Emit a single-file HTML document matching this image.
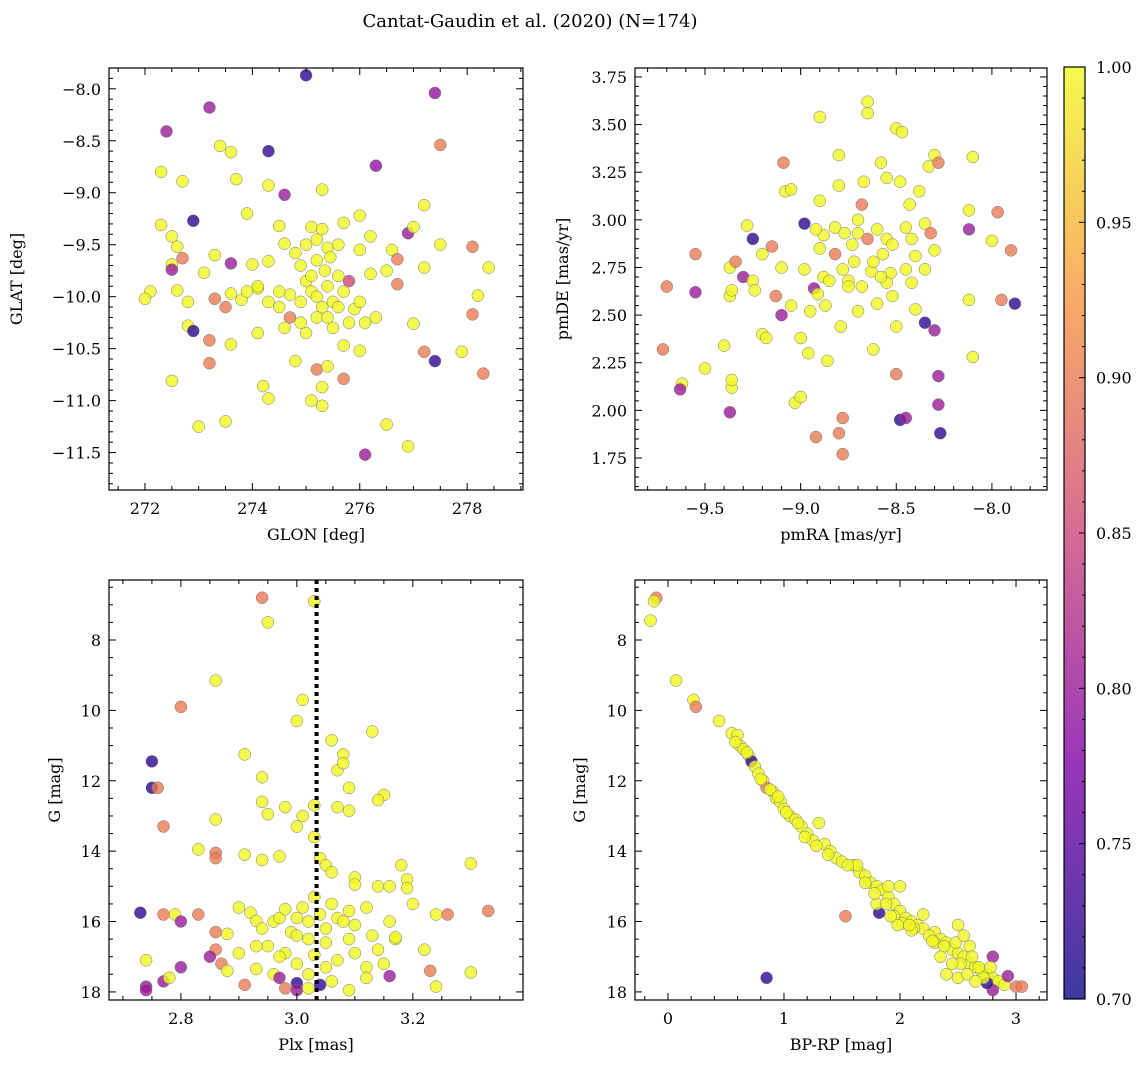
<!DOCTYPE html>
<html><head><meta charset="utf-8"><style>
body{margin:0;background:#fff;}
svg{display:block;font-family:"DejaVu Serif","Liberation Serif",serif;}
</style></head><body>
<svg id="chart" width="1148" height="1067" viewBox="0 0 1148 1067">
<text x="530" y="27" font-size="18" text-anchor="middle">Cantat-Gaudin et al. (2020) (N=174)</text>
</svg>
<script>
// ---- data (estimated from reference) ----
const glonGlat = [[275.0,-7.87,0.72],[277.4,-8.04,0.79],[273.2,-8.18,0.8],[277.5,-8.54,0.9],[272.4,-8.41,0.8],[273.4,-8.55,1],[273.6,-8.61,1],[274.3,-8.6,0.72],[276.3,-8.74,0.79],[272.3,-8.8,1],[272.7,-8.89,1],[273.7,-8.87,1],[274.3,-8.93,1],[274.6,-9.02,0.8],[275.3,-8.97,1],[277.2,-9.12,1],[272.9,-9.27,0.72],[272.3,-9.31,1],[273.9,-9.2,1],[274.5,-9.32,1],[275.1,-9.33,1],[275.7,-9.29,1],[276.0,-9.22,1],[276.9,-9.39,0.8],[277.0,-9.33,1],[272.5,-9.42,1],[272.6,-9.52,1],[272.5,-9.69,1],[272.5,-9.74,0.8],[272.7,-9.63,0.9],[273.3,-9.6,1],[273.6,-9.68,0.8],[274.0,-9.69,1],[274.3,-9.66,1],[274.6,-9.49,1],[274.8,-9.58,1],[275.0,-9.5,1],[275.2,-9.45,1],[275.4,-9.53,1],[275.6,-9.5,1],[276.0,-9.55,1],[276.2,-9.42,1],[276.6,-9.55,1],[276.7,-9.64,0.9],[277.5,-9.5,1],[278.1,-9.52,0.9],[278.4,-9.72,1],[277.2,-9.72,1],[272.1,-9.95,1],[272.0,-10.02,1],[272.6,-9.94,1],[272.8,-10.05,1],[273.1,-9.77,1],[273.3,-10.02,0.9],[273.5,-10.1,0.9],[273.6,-9.97,1],[273.8,-10.03,1],[274.1,-9.92,1],[274.3,-10.05,1],[274.5,-10.1,1],[274.7,-9.98,1],[274.9,-10.05,1],[275.0,-9.85,1],[275.1,-9.95,1],[275.2,-10.0,1],[275.3,-10.1,1],[275.4,-9.9,1],[275.5,-10.05,1],[275.6,-10.1,1],[275.7,-9.95,1],[275.8,-9.85,0.85],[275.9,-10.12,1],[276.0,-10.05,1],[276.2,-9.78,1],[276.3,-10.2,1],[276.7,-9.88,0.9],[277.0,-10.26,1],[278.2,-9.99,1],[278.1,-10.17,0.9],[272.8,-10.28,1],[272.9,-10.33,0.72],[273.2,-10.42,0.9],[273.6,-10.46,1],[274.1,-10.35,1],[274.7,-10.2,0.9],[274.8,-10.62,1],[275.0,-10.35,1],[275.2,-10.7,0.9],[275.4,-10.67,1],[275.7,-10.47,1],[275.7,-10.79,0.9],[275.3,-10.87,1],[274.2,-10.86,1],[274.3,-10.98,1],[273.2,-10.64,0.9],[272.5,-10.81,1],[273.0,-11.25,1],[273.5,-11.2,1],[275.1,-11.0,1],[275.3,-11.05,1],[276.5,-11.23,1],[276.9,-11.44,1],[276.1,-11.52,0.8],[277.4,-10.62,0.72],[277.2,-10.53,0.9],[278.3,-10.74,0.9],[277.9,-10.53,1],[276.0,-10.52,1],[275.8,-10.25,1],[275.5,-10.3,1],[274.9,-10.25,1],[275.2,-9.65,1],[275.35,-9.75,1],[275.1,-9.8,1],[274.9,-9.7,1],[275.45,-9.62,1],[275.3,-9.35,1],[274.5,-9.95,1],[275.6,-9.8,1],[274.6,-10.3,1],[275.2,-10.2,1],[276.1,-10.25,1],[275.4,-10.2,1],[274.1,-9.9,1],[273.9,-9.95,1],[276.5,-9.75,1]];
const pmData = [[-9.55,2.82,0.9],[-9.7,2.65,0.9],[-9.72,2.32,0.9],[-9.55,2.62,0.8],[-9.62,2.14,1],[-9.63,2.11,0.8],[-9.5,2.22,1],[-9.4,2.34,1],[-9.37,1.99,0.8],[-9.36,2.12,1],[-9.36,2.16,1],[-9.37,2.6,1],[-9.36,2.63,1],[-9.37,2.75,1],[-9.34,2.78,0.9],[-9.3,2.7,0.8],[-9.28,2.97,1],[-9.25,2.9,0.72],[-9.25,2.68,1],[-9.24,2.63,1],[-9.2,2.4,1],[-9.18,2.38,1],[-9.15,2.86,0.9],[-9.13,2.6,0.9],[-9.1,2.5,0.8],[-9.1,2.75,1],[-9.09,3.3,0.9],[-9.08,3.15,1],[-9.05,3.16,1],[-9.05,2.55,1],[-9.03,2.04,1],[-9.0,2.07,1],[-9.0,2.38,1],[-8.98,2.98,0.72],[-8.98,2.74,1],[-8.96,2.3,1],[-8.95,2.52,1],[-8.93,2.64,0.8],[-8.91,2.61,1],[-8.9,3.54,1],[-8.9,3.1,1],[-8.9,2.85,1],[-8.88,2.92,1],[-8.88,2.7,1],[-8.87,2.55,1],[-8.86,2.26,1],[-8.82,2.82,0.9],[-8.82,2.96,1],[-8.8,3.34,1],[-8.8,3.18,1],[-8.79,2.44,1],[-8.78,2.74,1],[-8.77,2.93,1],[-8.75,2.68,1],[-8.73,2.87,1],[-8.7,3.0,1],[-8.7,2.93,1],[-8.7,2.52,1],[-8.68,3.08,0.9],[-8.67,3.2,1],[-8.65,3.62,1],[-8.65,3.56,1],[-8.65,2.9,0.9],[-8.63,2.73,1],[-8.62,2.32,1],[-8.6,2.56,1],[-8.58,3.3,1],[-8.55,3.22,1],[-8.55,2.9,1],[-8.53,2.72,1],[-8.52,2.87,1],[-8.5,3.48,1],[-8.5,2.44,1],[-8.5,2.19,0.9],[-8.48,3.2,1],[-8.47,3.46,1],[-8.45,2.96,1],[-8.45,2.74,1],[-8.43,3.08,1],[-8.42,2.67,1],[-8.4,2.53,1],[-8.38,3.15,1],[-8.35,2.98,1],[-8.35,2.46,0.72],[-8.32,2.93,0.9],[-8.33,3.28,1],[-8.3,3.34,1],[-8.3,2.84,1],[-8.28,3.3,0.9],[-8.3,2.42,0.8],[-8.28,2.18,0.8],[-8.28,2.03,0.8],[-8.27,1.88,0.72],[-8.48,1.95,0.72],[-8.45,1.96,0.8],[-8.78,1.96,0.9],[-8.8,1.88,0.9],[-8.78,1.77,0.9],[-8.92,1.86,0.9],[-8.62,2.78,1],[-8.57,2.82,1],[-8.55,2.67,1],[-8.4,2.81,1],[-8.35,2.74,1],[-8.12,2.95,0.8],[-8.12,3.05,1],[-8.12,2.58,1],[-8.1,2.28,1],[-8.1,3.33,1],[-8.0,2.89,1],[-7.97,3.04,0.9],[-7.95,2.58,0.9],[-7.9,2.84,0.9],[-7.88,2.56,0.72],[-8.75,2.65,1],[-8.85,2.68,1],[-8.6,2.95,1],[-8.72,2.78,1],[-8.52,2.6,1],[-8.92,2.95,1],[-8.68,2.65,1],[-8.58,2.7,1],[-8.42,2.9,1],[-9.2,2.82,1]];
const plxG = [[2.94,6.8,0.9],[3.03,6.9,1],[2.95,7.5,1],[2.86,9.15,1],[2.8,9.9,0.9],[3.01,9.7,1],[3.00,10.3,1],[3.06,10.85,1],[3.08,11.25,1],[3.13,10.6,1],[2.91,11.25,1],[2.75,11.45,0.72],[2.75,12.2,0.72],[2.76,12.2,0.9],[2.77,13.3,0.9],[2.94,11.9,1],[2.94,12.6,1],[2.98,12.75,1],[2.95,12.95,1],[3.03,12.7,1],[3.07,11.7,1],[3.08,11.5,1],[3.09,12.2,1],[3.07,12.75,1],[3.09,12.85,1],[3.15,12.4,1],[3.14,12.55,1],[2.86,13.1,1],[3.0,13.3,1],[3.01,13.0,1],[3.03,13.6,1],[2.83,13.95,1],[2.86,14.05,0.9],[2.86,14.2,0.9],[2.94,14.25,1],[2.91,14.1,1],[2.97,14.15,1],[3.04,14.2,1],[3.05,14.4,1],[3.06,14.6,1],[3.1,14.75,1],[3.1,14.95,1],[3.14,15.0,1],[3.16,15.0,1],[3.18,14.4,1],[3.19,14.8,1],[3.19,15.05,1],[3.3,14.35,1],[2.73,15.75,0.72],[2.77,15.8,0.9],[2.79,15.8,1],[2.8,16.0,0.8],[2.83,15.8,0.9],[2.86,16.3,0.9],[2.86,16.8,0.9],[2.87,17.2,0.9],[2.88,16.35,1],[2.9,15.6,1],[2.92,15.75,1],[2.93,15.98,1],[2.94,16.2,1],[2.95,16.7,1],[2.96,16.0,1],[2.97,15.9,1],[2.98,15.65,1],[2.99,16.3,1],[3.0,15.9,1],[3.0,16.4,1],[3.01,15.6,1],[3.02,16.0,1],[3.02,16.5,1],[3.03,15.3,1],[3.04,15.8,1],[3.05,16.2,1],[3.05,16.6,1],[3.06,15.5,1],[3.07,15.9,1],[3.08,16.0,1],[3.09,15.7,1],[3.09,16.5,1],[3.1,16.1,1],[3.12,15.6,1],[3.13,16.4,1],[3.14,16.8,1],[3.15,17.2,1],[3.16,16.0,1],[3.17,16.5,1],[3.2,15.5,1],[3.22,16.8,1],[3.23,17.4,0.9],[3.24,17.85,1],[3.24,15.8,1],[3.26,15.8,0.9],[3.3,17.45,1],[3.33,15.7,0.9],[2.74,17.1,1],[2.74,17.85,0.8],[2.74,17.95,0.8],[2.77,17.7,0.8],[2.78,17.6,1],[2.8,17.3,0.8],[2.85,17.0,0.8],[2.88,17.4,1],[2.91,17.8,0.9],[2.93,17.35,1],[2.96,17.5,1],[2.97,17.6,0.8],[2.98,17.9,0.9],[3.0,17.75,0.72],[3.0,17.95,0.8],[3.02,17.9,1],[3.04,17.8,0.72],[3.06,17.7,1],[3.09,17.95,1],[3.12,17.3,1],[3.12,17.6,1],[3.16,17.55,0.8],[2.93,16.7,1],[2.98,16.9,1],[3.03,16.95,1],[3.07,17.1,1],[3.1,16.9,1],[3.17,16.45,1],[3.0,17.2,1],[2.97,17.0,1],[3.05,17.3,1],[3.02,17.5,1],[2.9,16.9,1]];
const cmdData = [[-0.1,6.8,0.9],[-0.12,6.9,1],[-0.15,7.45,1],[0.07,9.15,1],[0.22,9.7,1],[0.24,9.9,0.9],[0.44,10.3,1],[0.55,10.65,1],[0.6,10.7,1],[0.62,11.0,1],[0.65,11.1,1],[0.7,11.3,1],[0.72,11.45,0.72],[0.75,11.6,1],[0.78,11.8,1],[0.82,12.0,1],[0.85,12.2,0.9],[0.9,12.3,1],[0.93,12.5,1],[0.97,12.6,1],[1.0,12.8,1],[1.05,13.0,1],[1.1,13.1,1],[1.15,13.3,1],[1.2,13.5,1],[1.3,13.2,1],[1.25,13.7,1],[1.35,13.8,1],[1.4,14.0,1],[1.45,14.2,1],[1.5,14.3,1],[1.6,14.4,1],[1.65,14.6,1],[1.63,14.4,1],[1.7,14.7,1],[1.75,14.9,1],[1.8,15.0,1],[1.85,15.1,1],[1.9,15.3,1],[1.95,15.5,1],[2.0,15.7,1],[2.05,15.9,1],[2.1,16.0,1],[2.15,16.1,1],[2.2,16.2,1],[2.3,16.3,1],[2.35,16.5,1],[2.4,16.6,1],[2.45,16.8,1],[2.5,16.9,1],[2.55,17.0,1],[2.6,17.2,1],[2.65,17.3,1],[2.7,17.4,1],[2.75,17.5,1],[2.8,17.6,1],[2.85,17.7,1],[2.9,17.8,1],[3.0,17.85,0.9],[3.05,17.85,0.9],[2.8,17.0,0.8],[2.93,17.55,0.8],[2.8,17.95,0.8],[2.75,17.75,0.72],[1.53,15.85,0.9],[0.85,17.6,0.72],[1.82,15.75,0.72],[1.8,15.5,1],[1.9,15.0,1],[2.0,15.0,1],[0.58,10.9,1],[0.68,11.2,1],[0.8,11.95,1],[0.88,12.25,1],[0.95,12.45,1],[1.02,12.9,1],[1.12,13.2,1],[1.18,13.6,1],[1.28,13.85,1],[1.38,14.1,1],[1.55,14.4,1],[1.7,14.9,1],[1.78,15.2,1],[1.88,15.5,1],[1.95,15.85,1],[2.02,16.05,1],[2.12,16.2,1],[2.25,16.4,1],[2.3,16.6,1],[2.38,16.7,1],[2.48,16.6,1],[2.5,16.1,1],[2.2,15.8,1],[2.52,17.2,1],[2.55,16.4,1],[2.6,16.7,1],[2.62,17.0,1],[2.68,17.3,1],[2.72,17.6,1],[2.78,17.3,1],[2.45,17.2,1],[2.4,17.5,1],[2.35,17.0,1],[2.5,17.6,1],[2.58,17.5,1],[2.65,17.7,1],[2.1,16.25,1],[1.98,16.1,1],[1.92,15.85,1],[2.08,16.1,1],[2.28,16.55,1]];
const cbTicks = [0.70,0.75,0.80,0.85,0.90,0.95,1.00];

const svg = document.getElementById('chart');
const NS='http://www.w3.org/2000/svg';
function mk(tag, attrs, parent){const e=document.createElementNS(NS,tag);for(const k in attrs)e.setAttribute(k,attrs[k]);(parent||svg).appendChild(e);return e;}
const stops=[[0,[13,8,135]],[0.25,[126,3,168]],[0.5,[204,71,120]],[0.75,[248,149,64]],[1,[240,249,33]]];
function plasma(t){t=Math.max(0,Math.min(1,t));for(let i=1;i<stops.length;i++){if(t<=stops[i][0]){const a=stops[i-1],b=stops[i];const f=(t-a[0])/(b[0]-a[0]);const c=a[1].map((v,j)=>Math.round(v+(b[1][j]-v)*f));return `rgb(${c[0]},${c[1]},${c[2]})`;}}return 'rgb(240,249,33)';}
function probColor(p){return plasma((p-0.7)/0.3);}
function fmt(v,d){return (v<0?'\u2212':'')+Math.abs(v).toFixed(d);}

function panel(cfg){
  const {name,x0,x1,y0,y1,xmin,xmax,ymin,ymax,xmaj,xmin_,ymaj,ymin_,xd,yd,xlabel,ylabel,data,invert}=cfg;
  const g=mk('g',{});
  
  
  const sx=v=>x0+(v-xmin)/(xmax-xmin)*(x1-x0);
  const sy=invert? v=>y0+(v-ymin)/(ymax-ymin)*(y1-y0) : v=>y1-(v-ymin)/(ymax-ymin)*(y1-y0);
  const clip='clip-'+name;
  const cp=mk('clipPath',{id:clip},g);mk('rect',{x:x0,y:y0,width:x1-x0,height:y1-y0},cp);
  const pts=mk('g',{'clip-path':`url(#${clip})`},g);
  
  
  data.forEach(d=>{
    const c=mk('circle',{cx:sx(d[0]),cy:sy(d[1]),r:6,fill:probColor(d[2]),'fill-opacity':0.8,stroke:'#777','stroke-width':0.5},pts);
    
    
  });
  if(cfg.vline!==undefined){
    const l=mk('line',{x1:sx(cfg.vline),x2:sx(cfg.vline),y1:y0,y2:y1,stroke:'#000','stroke-width':4,'stroke-dasharray':'4 4'},g);
    
    
  }
  mk('rect',{x:x0,y:y0,width:x1-x0,height:y1-y0,fill:'none',stroke:'#000','stroke-width':1.2},g);
  const eps=1e-9;
  for(let v=Math.ceil(xmin/xmin_-eps)*xmin_;v<=xmax+eps;v+=xmin_){
    const X=sx(v);const major=Math.abs(v/xmaj-Math.round(v/xmaj))<1e-6;const L=major?7:4;
    mk('line',{x1:X,x2:X,y1:y1,y2:y1-L,stroke:'#000','stroke-width':1},g);
    mk('line',{x1:X,x2:X,y1:y0,y2:y0+L,stroke:'#000','stroke-width':1},g);
    if(major){const t=mk('text',{x:X,y:y1+24,'font-size':16,'text-anchor':'middle'},g);t.textContent=fmt(Math.round(v/xmaj)*xmaj,xd);
      }
  }
  for(let v=Math.ceil(ymin/ymin_-eps)*ymin_;v<=ymax+eps;v+=ymin_){
    const Y=sy(v);const major=Math.abs(v/ymaj-Math.round(v/ymaj))<1e-6;const L=major?7:4;
    mk('line',{x1:x0,x2:x0+L,y1:Y,y2:Y,stroke:'#000','stroke-width':1},g);
    mk('line',{x1:x1,x2:x1-L,y1:Y,y2:Y,stroke:'#000','stroke-width':1},g);
    if(major){const t=mk('text',{x:x0-8,y:Y+6,'font-size':16,'text-anchor':'end'},g);t.textContent=fmt(Math.round(v/ymaj)*ymaj,yd);
      }
  }
  const xl=mk('text',{x:(x0+x1)/2,y:y1+50,'font-size':16,'text-anchor':'middle'},g);xl.textContent=xlabel;
  
  const ylx=cfg.ylx;
  const yl=mk('text',{x:ylx,y:(y0+y1)/2,'font-size':16,'text-anchor':'middle',transform:`rotate(-90 ${ylx} ${(y0+y1)/2})`},g);yl.textContent=ylabel;
  
}

panel({name:'glon-glat-panel',x0:109,x1:523,y0:68,y1:490,xmin:271.33,xmax:279.04,ymin:-11.86,ymax:-7.80,xmaj:2,xmin_:0.5,ymaj:0.5,ymin_:0.1,xd:0,yd:1,xlabel:'GLON [deg]',ylabel:'GLAT [deg]',data:glonGlat,ylx:22});
panel({name:'pm-panel',x0:635,x1:1047,y0:68,y1:490,xmin:-9.866,xmax:-7.712,ymin:1.582,ymax:3.797,xmaj:0.5,xmin_:0.1,ymaj:0.25,ymin_:0.05,xd:1,yd:2,xlabel:'pmRA [mas/yr]',ylabel:'pmDE [mas/yr]',data:pmData,ylx:568});
panel({name:'plx-g-panel',x0:109,x1:523,y0:580,y1:1000,xmin:2.676,xmax:3.390,ymin:6.295,ymax:18.23,xmaj:0.2,xmin_:0.05,ymaj:2,ymin_:0.5,xd:1,yd:0,xlabel:'Plx [mas]',ylabel:'G [mag]',data:plxG,ylx:60,invert:true,vline:3.034});
panel({name:'cmd-panel',x0:635,x1:1047,y0:580,y1:1000,xmin:-0.284,xmax:3.267,ymin:6.295,ymax:18.23,xmaj:1,xmin_:0.2,ymaj:2,ymin_:0.5,xd:0,yd:0,xlabel:'BP-RP [mag]',ylabel:'G [mag]',data:cmdData,ylx:585,invert:true});

// colorbar
const cb=mk('g',{});


const defs=mk('defs',{},cb);const lg=mk('linearGradient',{id:'cbg',x1:0,y1:1,x2:0,y2:0},defs);
for(let i=0;i<=20;i++){mk('stop',{offset:i/20,'stop-color':plasma(i/20),'stop-opacity':0.8},lg);}
const cbx0=1064,cbx1=1085,cby0=67,cby1=999;
mk('rect',{x:cbx0,y:cby0,width:cbx1-cbx0,height:cby1-cby0,fill:'url(#cbg)',stroke:'#000','stroke-width':1.2},cb);
const cy=v=>cby1-(v-0.7)/0.3*(cby1-cby0);
for(let i=0;i<=30;i++){const v=0.7+i*0.01;const Y=cy(v);const major=i%5===0;
  mk('line',{x1:cbx1,x2:cbx1-(major?6:3),y1:Y,y2:Y,stroke:'#000','stroke-width':1},cb);}
cbTicks.forEach(v=>{const t=mk('text',{x:cbx1+11,y:cy(v)+6,'font-size':16},cb);t.textContent=v.toFixed(2);
  });
</script>
</body></html>
